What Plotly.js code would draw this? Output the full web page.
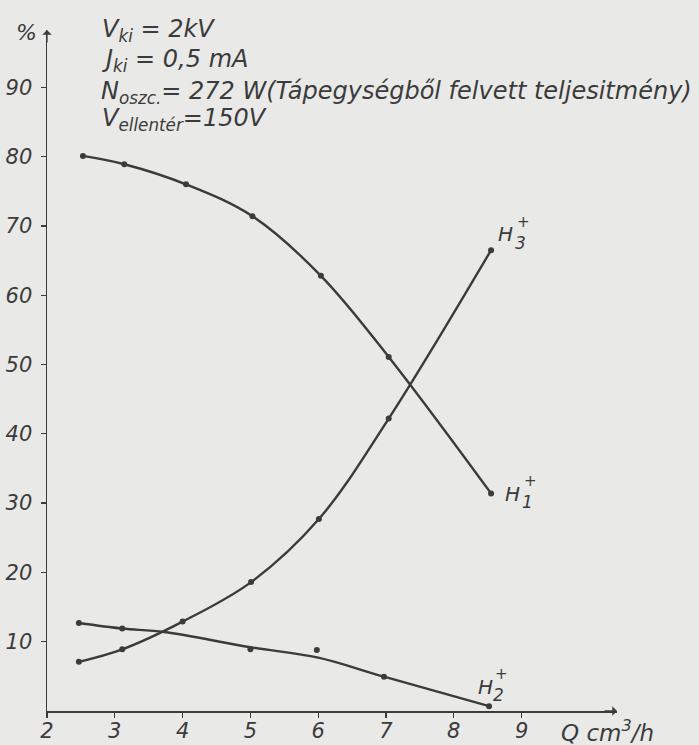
<!DOCTYPE html>
<html>
<head>
<meta charset="utf-8">
<script src="https://cdn.plot.ly/plotly-3.0.1.min.js"></script>
<style>
  html, body { margin: 0; padding: 0; background: #e9e9e7; }
  #chart { width: 699px; height: 745px; }
</style>
</head>
<body>
<div id="chart"></div>
<script>
// ---- data ----
const xTicks = [2, 3, 4, 5, 6, 7, 8, 9];
const yTicks = [10, 20, 30, 40, 50, 60, 70, 80, 90];

const h1X = [2.53, 3.14, 4.05, 5.03, 6.04, 7.04, 8.55];
const h1Y = [80.1, 78.9, 76.0, 71.4, 62.8, 51.1, 31.4];

const h3X = [2.47, 3.11, 4.0, 5.01, 6.01, 7.04, 8.55];
const h3Y = [7.1, 8.9, 12.9, 18.6, 27.7, 42.2, 66.5];

const h2X = [2.47, 3.11, 5.0, 5.98, 6.97, 8.52];
const h2Y = [12.7, 11.9, 8.9, 8.8, 4.95, 0.7];

// hand-drawn fair curve through the H2+ points
const h2CurveX = [2.47, 3.11, 3.73, 5.0, 6.0, 6.97, 8.52];
const h2CurveY = [12.7, 11.9, 11.4, 9.2, 7.7, 4.95, 0.7];

// ---- styling ----
const INK = '#3b3b3b';
const FONT = 'DejaVu Sans';
const W = 699, H = 745;
const L = 47, R = 82, T = 30, B = 34;
const pw = W - L - R, ph = H - T - B;
const px = x => (x - L) / pw;
const py = y => (H - B - y) / ph;

const lineStyle = { color: INK, width: 2.4, shape: 'spline', smoothing: 1 };
const markerStyle = { color: INK, size: 6 };

const traces = [
  { x: h1X, y: h1Y, mode: 'lines+markers', line: lineStyle, marker: markerStyle, name: 'H1+' },
  { x: h3X, y: h3Y, mode: 'lines+markers', line: lineStyle, marker: markerStyle, name: 'H3+' },
  { x: h2CurveX, y: h2CurveY, mode: 'lines', line: lineStyle, name: 'H2+ curve' },
  { x: h2X, y: h2Y, mode: 'markers', marker: markerStyle, name: 'H2+' }
];

const tf = { family: FONT, size: 21, color: INK, style: 'italic' };
const af = { family: FONT, size: 24, color: INK, style: 'italic' };

function txt(text, x, y, xanchor, size) {
  return { text, xref: 'paper', yref: 'paper', x: px(x), y: py(y),
    xanchor: xanchor || 'left', yanchor: 'middle', showarrow: false,
    font: Object.assign({}, af, size ? { size } : {}) };
}
function lab(text, sx, sy, xs, ys, size) {
  return { text, xref: 'x', yref: 'y', x: sx, y: sy, xshift: xs, yshift: ys,
    xanchor: 'left', yanchor: 'middle', showarrow: false,
    font: Object.assign({}, af, { size: size || 20 }) };
}

const n1 = h1X.length - 1, n3 = h3X.length - 1, n2 = h2X.length - 1;

const annotations = [
  txt('%', 26, 32, 'center', 22),
  txt('V<sub>ki</sub> = 2kV', 100, 30),
  txt('J<sub>ki</sub> = 0,5 mA', 100, 60),
  txt('N<sub>oszc.</sub>= 272 W(Tápegységből felvett teljesitmény)', 99, 92),
  txt('V<sub>ellentér</sub>=150V', 100, 119),
  txt('Q cm<sup>3</sup>/h', 559, 731, 'left', 23),
  // curve labels
  lab('H', h3X[n3], h3Y[n3], 5, 16), lab('3', h3X[n3], h3Y[n3], 22, 7, 17), lab('+', h3X[n3], h3Y[n3], 24, 28, 15),
  lab('H', h1X[n1], h1Y[n1], 12, -1), lab('1', h1X[n1], h1Y[n1], 29, -9, 17), lab('+', h1X[n1], h1Y[n1], 31, 12, 15),
  lab('H', h2X[n2], h2Y[n2], -13, 19), lab('2', h2X[n2], h2Y[n2], 2, 11, 17), lab('+', h2X[n2], h2Y[n2], 4, 32, 15),
  // axis arrows
  { xref: 'paper', yref: 'paper', x: 1, y: 0, ax: -14, ay: 0, text: '', showarrow: true,
    arrowhead: 1, arrowsize: 1.2, arrowwidth: 1.3, arrowcolor: INK },
  { xref: 'paper', yref: 'paper', x: 0, y: 1, ax: 0, ay: 14, text: '', showarrow: true,
    arrowhead: 1, arrowsize: 1.2, arrowwidth: 1.3, arrowcolor: INK }
];

const layout = {
  width: W, height: H,
  margin: { l: L, r: R, t: T, b: B, pad: 0 },
  paper_bgcolor: '#e9e9e7', plot_bgcolor: '#e9e9e7',
  showlegend: false,
  xaxis: {
    range: [2, 2 + pw / 67.8], tickvals: xTicks, ticktext: xTicks.map(String),
    ticks: 'outside', ticklen: 5, tickwidth: 1.3, tickcolor: INK,
    showline: true, linecolor: INK, linewidth: 1.5, showgrid: false, zeroline: false,
    tickfont: tf, ticklabelstandoff: -5
  },
  yaxis: {
    range: [0, ph / 6.93], tickvals: yTicks, ticktext: yTicks.map(String),
    ticks: 'outside', ticklen: 5, tickwidth: 1.3, tickcolor: INK,
    showline: true, linecolor: INK, linewidth: 1.5, showgrid: false, zeroline: false,
    tickfont: tf, ticklabelstandoff: 4
  },
  annotations
};

Plotly.newPlot('chart', traces, layout, { displayModeBar: false, staticPlot: true });
</script>
</body>
</html>
